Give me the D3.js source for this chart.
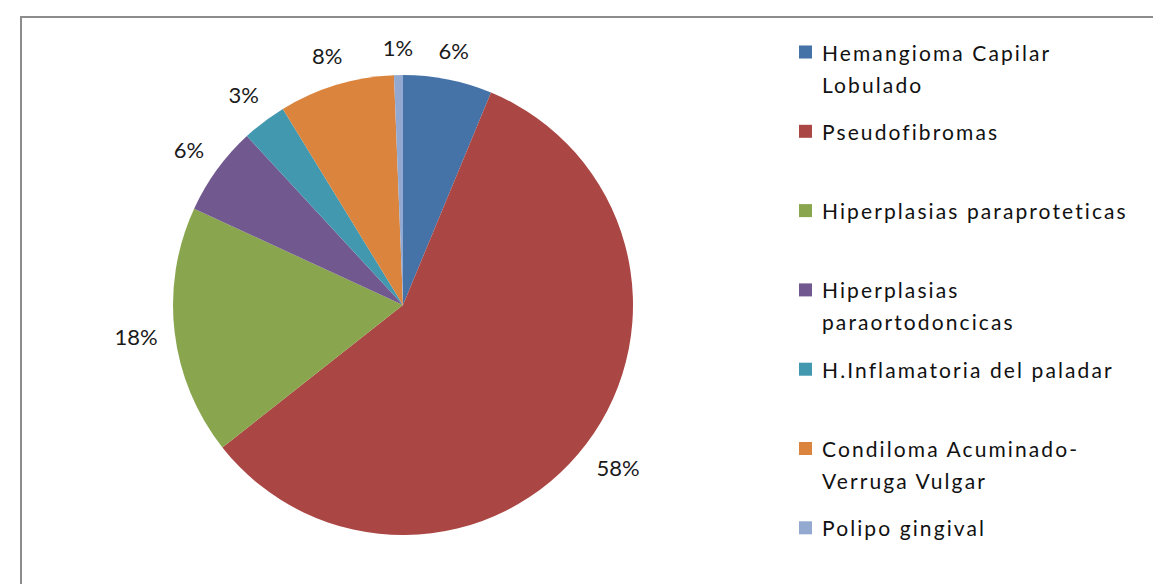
<!DOCTYPE html>
<html>
<head>
<meta charset="utf-8">
<script src="https://cdn.jsdelivr.net/npm/d3@7"></script>
<style>
  body { margin: 0; background: #fff; }
  svg { display: block; font-family: Lato, "Open Sans", sans-serif; }
</style>
</head>
<body>
<svg id="chart" width="1153" height="584"></svg>
<script>
// data
const categories = [
    "Hemangioma Capilar Lobulado",
    "Pseudofibromas",
    "Hiperplasias paraproteticas",
    "Hiperplasias paraortodoncicas",
    "H.Inflamatoria del paladar",
    "Condiloma Acuminado-Verruga Vulgar",
    "Polipo gingival"
];
const legendLines = [
    ["Hemangioma Capilar", "Lobulado"],
    ["Pseudofibromas"],
    ["Hiperplasias paraproteticas"],
    ["Hiperplasias", "paraortodoncicas"],
    ["H.Inflamatoria del paladar"],
    ["Condiloma Acuminado-", "Verruga Vulgar"],
    ["Polipo gingival"]
];
const counts = [10, 93, 28, 10, 5, 13, 1];
const colours = ["#4572A7", "#AA4643", "#89A54E", "#71588F", "#4198AF", "#DB843D", "#93A9CF"];

// settings
const width = 1153;
const height = 584;
const centre = { x: 403, y: 305 };
const radius = 230;
const labelGap = 16;
const styles = {
    frame: { stroke: "#8c8c8c", strokeWidth: 2 },
    label: { fontSize: 22, fill: "#1a1a1a" },
    legend: { fontSize: 21, letterSpacing: 2.1, fill: "#111", swatch: 13 }
};

const svg = d3.select("#chart");

//frame
svg.append("path")
    .attr("class", "frame")
    .attr("d", `M21,${height} L21,17 L${width},17`)
    .attr("fill", "none")
    .attr("stroke", styles.frame.stroke)
    .attr("stroke-width", styles.frame.strokeWidth);

//pie
const total = d3.sum(counts);
const pie = d3.pie().sort(null).value(d => d.value);
const arc = d3.arc().innerRadius(0).outerRadius(radius);
const data = pie(categories.map((c, i) => ({ key: c, value: counts[i], colour: colours[i] })));

const pieG = svg.append("g")
    .attr("class", "pie")
    .attr("transform", `translate(${centre.x}, ${centre.y})`);

pieG.selectAll("path.slice")
    .data(data, d => d.data.key)
    .enter()
    .append("path")
        .attr("class", "slice")
        .attr("d", arc)
        .attr("fill", d => d.data.colour);

//labels, placed just outside the rim
const pct = d => `${Math.round(d.data.value / total * 100)}%`;
pieG.selectAll("text.slice-label")
    .data(data, d => d.data.key)
    .enter()
    .append("text")
        .attr("class", "slice-label")
        .attr("text-anchor", "middle")
        .attr("dominant-baseline", "central")
        .attr("font-size", styles.label.fontSize)
        .attr("fill", styles.label.fill)
        .text(pct)
        .each(function(d){
            const a = (d.startAngle + d.endAngle) / 2;
            const box = this.getBBox();
            const r = radius + labelGap + (box.width / 2) * Math.abs(Math.sin(a)) + (box.height / 2) * 0.8 * Math.abs(Math.cos(a));
            d3.select(this).attr("x", r * Math.sin(a)).attr("y", -r * Math.cos(a));
        });

//legend
const legendTop = 52;
const legendStep = 79.3;
const lineHeight = 32;
const legendG = svg.append("g").attr("class", "legend");

const itemG = legendG.selectAll("g.legend-item")
    .data(categories)
    .enter()
    .append("g")
        .attr("class", "legend-item")
        .attr("transform", (d, i) => `translate(799, ${legendTop + i * legendStep})`);

itemG.append("rect")
    .attr("x", 0)
    .attr("y", -styles.legend.swatch / 2)
    .attr("width", styles.legend.swatch)
    .attr("height", styles.legend.swatch)
    .attr("fill", (d, i) => colours[i]);

itemG.each(function(d, i){
    d3.select(this).selectAll("text")
        .data(legendLines[i])
        .enter()
        .append("text")
            .attr("x", 23)
            .attr("y", (l, j) => j * lineHeight)
            .attr("dominant-baseline", "central")
            .attr("font-size", styles.legend.fontSize)
            .attr("letter-spacing", styles.legend.letterSpacing)
            .attr("fill", styles.legend.fill)
            .text(l => l);
});
</script>
</body>
</html>
